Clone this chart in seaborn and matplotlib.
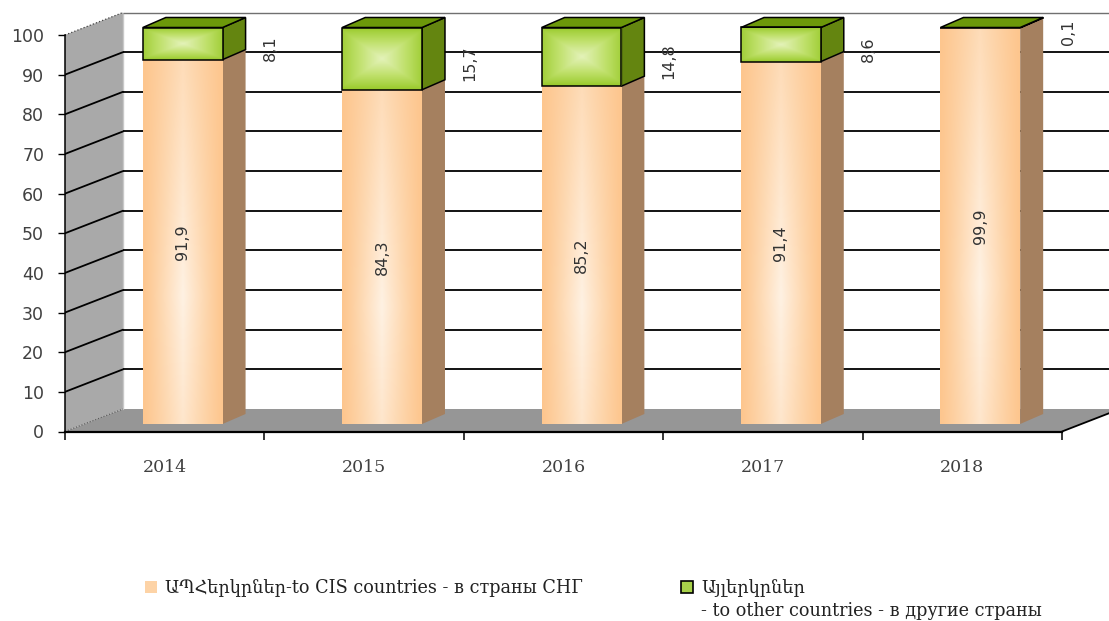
import numpy as np
import pandas as pd
import matplotlib
matplotlib.use("Agg")
import matplotlib.pyplot as plt
from matplotlib.patches import Polygon, Patch
from matplotlib.colors import LinearSegmentedColormap
import seaborn as sns

years = ["2014", "2015", "2016", "2017", "2018"]
cis = [91.9, 84.3, 85.2, 91.4, 99.9]
other = [8.1, 15.7, 14.8, 8.6, 0.1]
cis_labels = ["91,9", "84,3", "85,2", "91,4", "99,9"]
other_labels = ["8,1", "15,7", "14,8", "8,6", "0,1"]
yticks = list(range(0, 101, 10))
legend_cis = "ԱՊՀերկրներ-to CIS countries - в страны СНГ"
legend_other = "Այլերկրներ"
legend_other2 = "- to other countries - в другие страны"

df = pd.DataFrame({"year": years, "cis": cis, "other": other})

sns.set_theme(style="white")
plt.rcParams["font.family"] = ["DejaVu Sans"]
serif = ["DejaVu Serif", "DejaVu Sans"]

W, H = 1109, 621
fig = plt.figure(figsize=(W / 100, H / 100), dpi=100)
ax = fig.add_axes([65 / W, 1 - 431.5 / H, 1044 / W, 419.5 / H])

# fake 3d: the bars' front face is the data plane, the axis frame sits in front,
# the back wall behind (offsets in data units)
px_x = 997 / 5
px_y = 3.965
fx, fy = -18 / px_x, -7.5 / px_y      # front plane (axis lines)
bx, by = 40 / px_x, 15 / px_y         # back wall
dx, dy = 23 / px_x, 10 / px_y         # bar depth
x0, x1 = -0.5 + fx, 4.5 + fx
bl = -0.5 + bx
xmax = x0 + 1044 / px_x

# walls and floor
ax.add_patch(Polygon([(x0, fy), (x0, 100 + fy), (bl, 100 + by), (bl, by)],
                     closed=True, facecolor="#a9a9a9", edgecolor="none", zorder=0.2))
ax.add_patch(Polygon([(x0, fy), (x1, fy), (x1 + bl - x0, by), (bl, by)],
                     closed=True, facecolor="#969696", edgecolor="none", zorder=0.2))
ax.plot([bl, bl], [by, 100 + by], color="#c8c8c8", lw=1, zorder=0.3)
ax.plot([x0, bl], [fy, by], color="#555555", lw=0.8, ls=":", zorder=0.4)
ax.plot([x1, x1 + bl - x0], [fy, by], color="black", lw=1.3, zorder=0.4)

for v in yticks[1:]:
    c = "black" if v < 100 else "#707070"
    ax.plot([bl, xmax], [v + by, v + by], color=c, lw=1.3 if v < 100 else 1, zorder=0.5,
            solid_capstyle="butt")
    ax.plot([x0, bl], [v + fy, v + by], color="black" if v < 100 else "#444444",
            lw=1.3 if v < 100 else 0.9, ls="-" if v < 100 else ":", zorder=0.5)

# bars
sns.barplot(data=df, x="year", y="cis", color="#fdcb95", width=0.4, saturation=1,
            errorbar=None, linewidth=0, zorder=3, ax=ax)
sns.barplot(data=df, x="year", y="other", bottom=df["cis"], color="#9ccc30", width=0.4,
            saturation=1, errorbar=None, edgecolor="black", linewidth=1.1, zorder=5, ax=ax)
cis_bars = list(ax.containers[0])
oth_bars = list(ax.containers[1])

orange_cmap = LinearSegmentedColormap.from_list("o", ["#fdc68e", "#fedcb8", "#fff1e2"])
green_cmap = LinearSegmentedColormap.from_list("g", ["#97c928", "#bfe06a", "#e3f2b8"])

u = np.linspace(-1, 1, 120)
v = np.linspace(0, 1, 200)
U, V = np.meshgrid(u, v)
grad_o = (1 - np.abs(U)) ** 1.1 * (1 - 0.5 * np.abs(V - 0.35) / 0.65)
U2, V2 = np.meshgrid(np.linspace(-1, 1, 120), np.linspace(-1, 1, 120))
grad_g = (1 - np.maximum(np.abs(U2) * 0.9, np.abs(V2))) ** 0.9

for r1, r2 in zip(cis_bars, oth_bars):
    xl, w = r1.get_x(), r1.get_width()
    xr = xl + w
    y1 = r1.get_height()
    top = y1 + r2.get_height()
    # front gradients
    im = ax.imshow(grad_o, cmap=orange_cmap, origin="lower", aspect="auto",
                   extent=(xl, xr, 0, y1), zorder=2.9, interpolation="bilinear")
    im.set_clip_path(r1)
    r1.set_facecolor("none")
    im = ax.imshow(grad_g, cmap=green_cmap, origin="lower", aspect="auto",
                   extent=(xl, xr, y1, top), zorder=4.9, interpolation="bilinear")
    im.set_clip_path(r2)
    r2.set_facecolor("none")
    # sides and top
    ax.add_patch(Polygon([(xr, 0), (xr + dx, dy), (xr + dx, y1 + dy), (xr, y1)],
                         closed=True, facecolor="#a5805f", edgecolor="none", zorder=2.5))
    ax.add_patch(Polygon([(xr, y1), (xr + dx, y1 + dy), (xr + dx, top + dy), (xr, top)],
                         closed=True, facecolor="#648510", edgecolor="black", lw=1.1, zorder=4.5))
    ax.add_patch(Polygon([(xl, top), (xl + dx, top + dy), (xr + dx, top + dy), (xr, top)],
                         closed=True, facecolor="#6c980a", edgecolor="black", lw=1.1, zorder=4.5))

for i in range(len(years)):
    ax.text(i, cis[i] / 2, cis_labels[i], rotation=90, ha="center", va="center",
            fontsize=11.5, color="#333333", zorder=6)
    ax.text(i + 0.44, cis[i] + other[i] / 2 - 1.2, other_labels[i], rotation=90,
            ha="center", va="center", fontsize=11.5, color="#333333", zorder=6)

# axes frame
ax.set_xlim(x0, xmax)
ax.set_ylim(fy, fy + 419.5 / px_y)
for s in ["top", "right"]:
    ax.spines[s].set_visible(False)
ax.spines["left"].set_bounds(fy, 100 + fy)
ax.spines["bottom"].set_bounds(x0, x1)
ax.spines["left"].set_color("black")
ax.spines["bottom"].set_color("black")
ax.spines["left"].set_linewidth(1.1)
ax.spines["bottom"].set_linewidth(1.6)

ax.set_yticks([t + fy for t in yticks], [str(t) for t in yticks])
ax.set_xticks([x0 + k for k in range(6)], [""] * 6)
ax.set_xticks([i + fx for i in range(len(years))], years, minor=True)
ax.tick_params(axis="y", direction="out", length=5, width=1, color="black", left=True,
               pad=10, labelsize=12.5, labelcolor="#404040")
ax.tick_params(axis="x", which="major", direction="out", length=6, width=1.1, color="black",
               bottom=True)
ax.tick_params(axis="x", which="minor", length=0, pad=20, labelsize=12.5,
               labelcolor="#404040")
for t in ax.get_xticklabels(minor=True):
    t.set_family(serif)
ax.set_xlabel("")
ax.set_ylabel("")
ax.grid(False)

# legend
leg_kw = dict(frameon=False, borderpad=0, borderaxespad=0, handlelength=0.7,
              handleheight=0.7, handletextpad=0.45, loc="center left",
              prop={"family": serif, "size": 12.7}, labelcolor="#222222")
fig.legend([Patch(facecolor="#fdd3a6", edgecolor="none")], [legend_cis],
           bbox_to_anchor=(145 / W, 1 - 588 / H), **leg_kw)
fig.legend([Patch(facecolor="#a8d24a", edgecolor="black", lw=1.2)], [legend_other],
           bbox_to_anchor=(681 / W, 1 - 588 / H), **leg_kw)
fig.text(701 / W, 1 - 611 / H, legend_other2, va="center", ha="left", family=serif,
         fontsize=12.7, color="#222222")

fig.savefig("out.png", dpi=100)
